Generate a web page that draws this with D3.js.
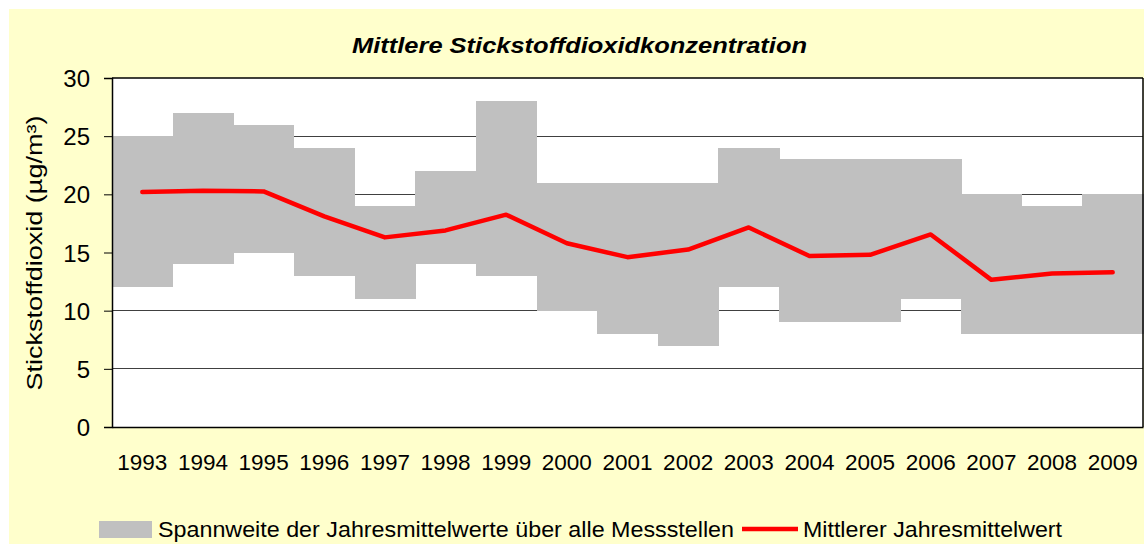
<!DOCTYPE html>
<html><head><meta charset="utf-8">
<script src="https://cdn.jsdelivr.net/npm/d3@7"></script>
<style>body{margin:0;background:#fff}svg{display:block;font-family:"Liberation Sans",Arial,sans-serif}</style>
</head><body><svg id="c" width="1144" height="544"></svg>
<script>
const years = ["1993","1994","1995","1996","1997","1998","1999","2000","2001","2002","2003","2004","2005","2006","2007","2008","2009"];
const minValues = [12,14,15,13,11,14,13,10,8,7,12,9,9,11,8,8,8];
const maxValues = [25,27,26,24,19,22,28,21,21,21,24,23,23,23,20,19,20];
const meanValues = [20.2,20.3,20.25,18.1,16.3,16.9,18.25,15.8,14.6,15.25,17.15,14.7,14.8,16.55,12.65,13.2,13.3];
const yTicks = [0,5,10,15,20,25,30];
const title = "Mittlere Stickstoffdioxidkonzentration";
const yLabel = "Stickstoffdioxid (µg/m³)";
const legendRange = "Spannweite der Jahresmittelwerte über alle Messstellen";
const legendMean = "Mittlerer Jahresmittelwert";

const svg = d3.select("#c");
const L = 112, R = 1143, T = 78, B = 427;
svg.append("rect").attr("x",9).attr("y",9).attr("width",1135).attr("height",535).attr("fill","#FFFFCC");
svg.append("rect").attr("x",L).attr("y",T).attr("width",R-L).attr("height",B-T).attr("fill","#fff");

const x = d3.scaleBand().domain(years).range([L,R]).padding(0);
const y = d3.scaleLinear().domain([0,30]).range([B,T]);

// gridlines
svg.append("g").selectAll("line").data(yTicks.filter(d=>d>0 && d<30)).join("line")
  .attr("x1",L).attr("x2",R).attr("y1",d=>y(d)).attr("y2",d=>y(d))
  .attr("stroke","#404040").attr("stroke-width",1).attr("shape-rendering","crispEdges");

// range bars
svg.append("g").selectAll("rect").data(years).join("rect")
  .attr("x",d=>x(d)).attr("width",x.bandwidth()+0.5)
  .attr("y",(d,i)=>y(maxValues[i])).attr("height",(d,i)=>y(minValues[i])-y(maxValues[i]))
  .attr("fill","#C0C0C0").attr("shape-rendering","crispEdges");

// frame: top, right
svg.append("line").attr("x1",L).attr("x2",R).attr("y1",y(30)).attr("y2",y(30)).attr("stroke","#000").attr("stroke-width",1.5);
svg.append("line").attr("x1",R).attr("x2",R).attr("y1",T).attr("y2",B).attr("stroke","#000").attr("stroke-width",1.5);

// axes
const yAxis = d3.axisLeft(y).tickValues(yTicks).tickSize(8).tickPadding(14);
const gy = svg.append("g").attr("transform",`translate(${L},0)`).call(yAxis);
gy.select(".domain").attr("stroke","#000").attr("stroke-width",1.5);
gy.selectAll(".tick line").attr("stroke","#000");
gy.selectAll(".tick text").attr("font-size",24).attr("fill","#000").attr("font-family","Liberation Sans, Arial, sans-serif").attr("dy","0.36em");

const xAxis = d3.axisBottom(x).tickSize(0).tickPadding(27);
const gx = svg.append("g").attr("transform",`translate(0,${B})`).call(xAxis);
gx.select(".domain").attr("stroke","#000").attr("stroke-width",1.5);
gx.selectAll(".tick text").attr("font-size",22.5).attr("fill","#000").attr("font-family","Liberation Sans, Arial, sans-serif");

// mean line
const line = d3.line().x((d,i)=>x(years[i])+x.bandwidth()/2).y(d=>y(d));
svg.append("path").datum(meanValues).attr("d",line).attr("fill","none")
  .attr("stroke","#FF0000").attr("stroke-width",4.5).attr("stroke-linejoin","round").attr("stroke-linecap","round");

// title
svg.append("text").attr("x",579.5).attr("y",53).attr("text-anchor","middle")
  .attr("font-size",22).attr("font-weight","bold").attr("font-style","italic")
  .attr("textLength",455).attr("lengthAdjust","spacingAndGlyphs").text(title);

// y label
svg.append("text").attr("transform","translate(42,253) rotate(-90)").attr("text-anchor","middle")
  .attr("font-size",22).attr("textLength",275).attr("lengthAdjust","spacingAndGlyphs").text(yLabel);

// legend
svg.append("rect").attr("x",99).attr("y",521).attr("width",53).attr("height",17).attr("fill","#C0C0C0");
svg.append("text").attr("x",158).attr("y",537).attr("font-size",22).attr("textLength",576).attr("lengthAdjust","spacingAndGlyphs").text(legendRange);
svg.append("line").attr("x1",742).attr("x2",798).attr("y1",529).attr("y2",529).attr("stroke","#FF0000").attr("stroke-width",4.5);
svg.append("text").attr("x",803).attr("y",537).attr("font-size",22).attr("textLength",259).attr("lengthAdjust","spacingAndGlyphs").text(legendMean);
</script></body></html>
